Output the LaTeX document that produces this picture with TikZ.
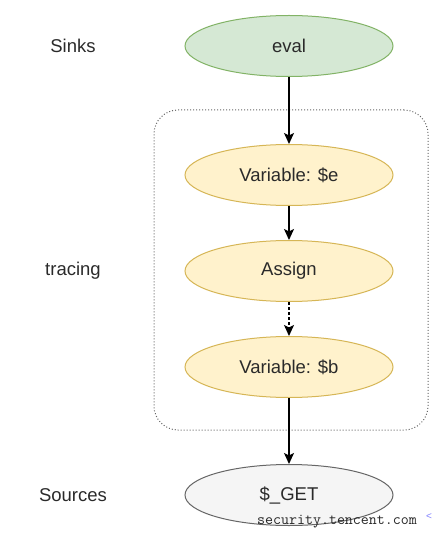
\documentclass[tikz,border=0pt]{standalone}
\usepackage{xcolor}
\usepackage{fontspec}
\setmainfont{Liberation Sans}
\usepackage{tikz}
\usetikzlibrary{arrows,arrows.meta,shapes,calc,positioning}

\definecolor{sinkfill}{HTML}{D5E8D4}
\definecolor{sinkline}{HTML}{82B366}
\definecolor{tracefill}{HTML}{FFF2CC}
\definecolor{traceline}{HTML}{D6B656}
\definecolor{srcfill}{HTML}{F5F5F5}
\definecolor{srcline}{HTML}{666666}
\definecolor{txtgray}{HTML}{2A2A2A}

\begin{document}
\begin{tikzpicture}
    [   blob/.style=
        {   draw
        ,   ellipse
        ,   line width = 1pt
        ,   minimum width = 208pt
        ,   minimum height = 61pt
        ,   inner sep = 0pt
        ,   text = txtgray
        ,   node font = \fontsize{18.5}{21}\selectfont
        }
    ,   sink/.style = {blob, fill=sinkfill, draw=sinkline}
    ,   trace/.style = {blob, fill=tracefill, draw=traceline}
    ,   source/.style = {blob, fill=srcfill, draw=srcline}
    ,   tier/.style =
        {   text = txtgray
        ,   node font = \fontsize{18.5}{21}\selectfont
        }
    ,   > = {Stealth[length=11pt,width=10pt,inset=2.5pt]}
    ,   flow/.style = {->, line width = 1.3pt}
    ]
    \useasboundingbox (0pt,0pt) rectangle (434pt,-534pt);
    % tracing frame
    \node[draw=srcline, dotted, line width = 1pt, rounded corners = 24pt,
          minimum width = 274pt, minimum height = 320pt] (frame) at (291pt,-270pt) {};
    % the chain
    \node[sink]   (eval)   at (289pt, -46pt) {eval};
    \node[trace]  (varE)   at (289pt,-175pt) {Variable: \$e};
    \node[trace]  (assign) at (289pt,-271pt) {Assign};
    \node[trace]  (varB)   at (289pt,-367pt) {Variable: \$b};
    \node[source] (get)    at (289pt,-495pt) {\$\_GET};
    % row labels
    \node[tier] (sinks)   at (73pt, -46pt) {Sinks};
    \node[tier] (tracing) at (73pt,-271pt) {tracing};
    \node[tier] (sources) at (73pt,-495pt) {Sources};
    \draw[flow] (eval) to (varE);
    \draw[flow] (varE) to (assign);
    \draw[flow, densely dashed] (assign) to (varB);
    \draw[flow] (varB) to (get);
    % watermark
    \node[font=\ttfamily\fontsize{15.5}{17}\selectfont, text=black!85, inner sep=0pt]
        (mark) at (337pt,-522pt) {security.tencent.com};
    \node[font=\fontsize{10}{12}\selectfont, text=blue!50, inner sep=0pt]
        (markarrow) at (429pt,-517pt) {<};
\end{tikzpicture}
\end{document}
